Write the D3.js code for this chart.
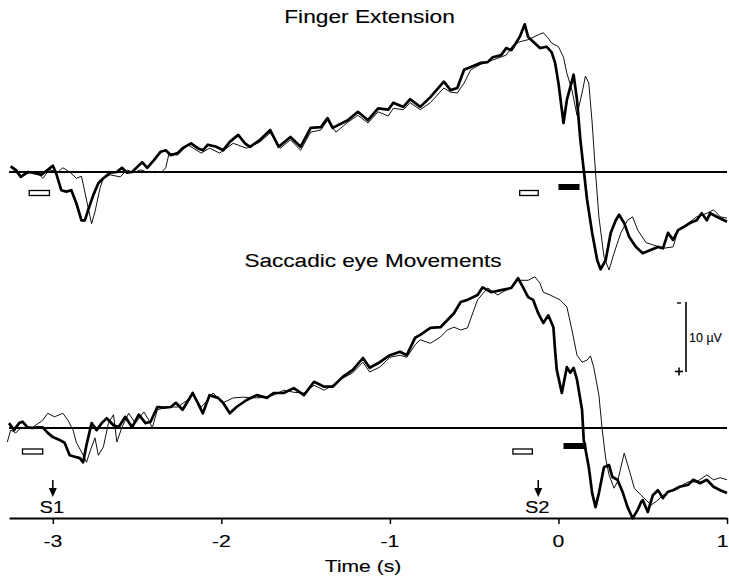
<!DOCTYPE html>
<html>
<head>
<meta charset="utf-8">
<script src="https://cdn.jsdelivr.net/npm/d3@7"></script>
<style>
  html, body { margin: 0; padding: 0; background: #fff; }
  svg { display: block; }
</style>
</head>
<body>
<svg id="chart" width="729" height="584"></svg>
<script>
// Grand-average potentials (time in s, amplitude in µV, negative plotted upward)
const fingerThick = [
[-3.25,-0.8],[-3.22,-0.3],[-3.19,0.7],[-3.15,0.0],[-3.12,0.1],[-3.07,0.4],[-3.03,-0.3],[-3.00,-0.9],[-2.98,0.2],[-2.95,2.6],[-2.92,2.8],[-2.89,2.6],[-2.86,4.5],[-2.83,6.9],[-2.81,6.9],[-2.79,5.4],[-2.76,3.3],[-2.73,1.6],[-2.70,0.9],[-2.66,0.1],[-2.62,0.0],[-2.59,-0.6],[-2.56,0.1],[-2.53,0.0],[-2.50,-0.7],[-2.47,-1.4],[-2.44,-0.6],[-2.40,-1.7],[-2.36,-2.9],[-2.33,-3.1],[-2.30,-2.4],[-2.26,-2.7],[-2.23,-3.4],[-2.18,-4.1],[-2.14,-3.4],[-2.11,-3.1],[-2.08,-3.9],[-2.03,-3.6],[-1.99,-3.1],[-1.95,-4.3],[-1.90,-5.3],[-1.86,-4.1],[-1.83,-3.6],[-1.77,-4.6],[-1.71,-6.0],[-1.66,-3.6],[-1.59,-5.0],[-1.53,-3.6],[-1.47,-6.3],[-1.41,-6.4],[-1.37,-7.7],[-1.34,-6.3],[-1.25,-7.4],[-1.19,-8.6],[-1.13,-7.4],[-1.07,-9.1],[-1.01,-8.9],[-0.98,-9.9],[-0.92,-9.3],[-0.88,-10.4],[-0.82,-9.3],[-0.76,-10.7],[-0.68,-12.9],[-0.64,-11.7],[-0.60,-12.0],[-0.56,-14.6],[-0.52,-15.0],[-0.46,-15.6],[-0.42,-15.7],[-0.39,-16.4],[-0.34,-16.7],[-0.31,-17.7],[-0.28,-17.4],[-0.26,-18.1],[-0.23,-19.3],[-0.20,-21.1],[-0.18,-19.3],[-0.15,-18.6],[-0.11,-17.7],[-0.07,-17.9],[-0.04,-17.1],[-0.02,-15.6],[0.00,-12.7],[0.02,-8.9],[0.03,-7.0],[0.05,-10.3],[0.09,-13.9],[0.11,-10.3],[0.13,-4.6],[0.15,-0.3],[0.17,4.0],[0.20,8.7],[0.23,12.6],[0.25,13.9],[0.28,12.6],[0.31,8.7],[0.34,6.9],[0.36,6.1],[0.39,7.3],[0.42,9.3],[0.46,10.7],[0.50,11.6],[0.55,11.1],[0.59,10.7],[0.62,10.9],[0.65,8.7],[0.68,9.7],[0.71,8.3],[0.74,7.9],[0.78,7.3],[0.82,6.9],[0.85,5.9],[0.88,6.9],[0.90,5.9],[0.94,6.4],[1.00,7.1]
];
const fingerThin = [
[-3.25,-0.7],[-3.19,0.7],[-3.13,0.0],[-3.09,0.1],[-3.06,0.9],[-3.02,-0.3],[-2.97,0.0],[-2.94,-0.6],[-2.90,0.0],[-2.86,0.9],[-2.83,0.6],[-2.80,4.0],[-2.77,7.4],[-2.75,5.7],[-2.72,2.3],[-2.70,0.9],[-2.66,0.4],[-2.60,0.7],[-2.56,-0.3],[-2.52,0.1],[-2.48,-0.3],[-2.44,0.0],[-2.39,0.1],[-2.35,-0.1],[-2.33,-0.6],[-2.31,-2.7],[-2.26,-2.4],[-2.20,-3.9],[-2.12,-2.7],[-2.07,-3.4],[-2.01,-2.7],[-1.93,-4.1],[-1.85,-3.4],[-1.77,-4.3],[-1.71,-5.6],[-1.65,-3.4],[-1.59,-4.6],[-1.53,-3.1],[-1.47,-5.7],[-1.41,-6.0],[-1.37,-7.4],[-1.32,-5.7],[-1.25,-7.1],[-1.19,-8.1],[-1.13,-7.0],[-1.07,-8.6],[-1.01,-8.0],[-0.98,-9.1],[-0.92,-8.9],[-0.88,-9.9],[-0.82,-8.9],[-0.76,-9.9],[-0.68,-12.0],[-0.64,-11.4],[-0.60,-11.3],[-0.56,-12.7],[-0.52,-14.6],[-0.46,-15.4],[-0.39,-16.0],[-0.31,-16.7],[-0.27,-18.1],[-0.23,-18.6],[-0.18,-18.9],[-0.12,-19.6],[-0.09,-19.9],[-0.06,-19.1],[-0.04,-18.4],[0.00,-17.9],[0.03,-16.4],[0.05,-14.1],[0.08,-11.7],[0.11,-8.1],[0.14,-11.3],[0.16,-13.7],[0.18,-12.7],[0.20,-7.0],[0.22,0.1],[0.24,6.4],[0.27,12.1],[0.30,14.0],[0.33,11.6],[0.37,8.7],[0.41,6.9],[0.44,6.4],[0.47,8.3],[0.52,10.1],[0.56,10.4],[0.62,10.9],[0.68,10.7],[0.71,8.3],[0.77,7.3],[0.82,6.4],[0.88,5.9],[0.92,5.4],[0.96,6.4],[1.00,6.6]
];
const saccadeThick = [
[-3.26,-0.7],[-3.23,0.3],[-3.20,-0.7],[-3.18,-0.9],[-3.15,-0.1],[-3.12,0.0],[-3.09,-0.1],[-3.06,-0.1],[-3.03,0.7],[-3.00,1.3],[-2.96,1.7],[-2.93,2.1],[-2.90,3.9],[-2.87,4.1],[-2.84,4.3],[-2.82,4.9],[-2.80,2.4],[-2.77,-0.7],[-2.74,0.3],[-2.71,-0.7],[-2.68,-1.4],[-2.64,-0.4],[-2.61,-0.1],[-2.57,-1.6],[-2.53,-0.1],[-2.49,-1.9],[-2.45,-0.7],[-2.42,-0.9],[-2.38,-3.0],[-2.34,-2.9],[-2.30,-3.0],[-2.27,-3.6],[-2.23,-2.6],[-2.17,-5.0],[-2.14,-3.6],[-2.11,-2.1],[-2.07,-4.7],[-2.02,-4.3],[-1.99,-3.6],[-1.95,-2.1],[-1.91,-3.0],[-1.85,-4.0],[-1.79,-4.7],[-1.73,-4.3],[-1.69,-5.0],[-1.63,-5.0],[-1.57,-5.7],[-1.51,-4.7],[-1.45,-6.6],[-1.39,-5.9],[-1.34,-5.9],[-1.28,-7.3],[-1.22,-8.3],[-1.16,-10.0],[-1.12,-8.6],[-1.06,-9.4],[-1.00,-10.4],[-0.94,-10.9],[-0.90,-10.4],[-0.85,-12.9],[-0.82,-13.3],[-0.76,-14.3],[-0.70,-14.4],[-0.66,-15.4],[-0.62,-16.4],[-0.58,-18.0],[-0.54,-18.3],[-0.48,-19.0],[-0.45,-20.1],[-0.40,-19.4],[-0.34,-19.7],[-0.28,-20.0],[-0.24,-21.4],[-0.21,-20.1],[-0.18,-18.7],[-0.15,-18.3],[-0.12,-16.4],[-0.09,-15.0],[-0.06,-16.1],[-0.03,-14.4],[-0.02,-11.1],[-0.01,-8.3],[0.02,-5.0],[0.05,-8.7],[0.07,-7.9],[0.09,-8.6],[0.11,-6.9],[0.14,-2.6],[0.15,1.7],[0.18,5.6],[0.20,9.3],[0.22,11.3],[0.24,9.3],[0.27,5.6],[0.30,5.3],[0.32,7.0],[0.35,7.4],[0.38,9.1],[0.41,11.3],[0.44,12.9],[0.47,11.7],[0.49,10.6],[0.50,10.3],[0.53,12.0],[0.56,9.6],[0.59,8.9],[0.62,10.0],[0.65,9.1],[0.68,8.9],[0.72,8.4],[0.77,8.1],[0.80,7.4],[0.84,7.9],[0.88,7.4],[0.92,8.4],[0.96,8.9],[1.00,9.3]
];
const saccadeThin = [
[-3.27,2.0],[-3.25,0.3],[-3.22,0.7],[-3.19,0.0],[-3.15,-0.1],[-3.12,-0.1],[-3.06,-1.1],[-3.03,-2.1],[-2.99,-1.6],[-2.94,-2.1],[-2.91,-1.1],[-2.88,0.3],[-2.86,2.1],[-2.83,3.4],[-2.80,4.9],[-2.78,3.4],[-2.75,1.4],[-2.73,3.9],[-2.70,2.7],[-2.67,-0.7],[-2.64,-1.9],[-2.62,2.0],[-2.59,-0.1],[-2.55,-2.1],[-2.51,-0.7],[-2.46,-2.3],[-2.43,-1.1],[-2.41,0.0],[-2.38,-2.6],[-2.32,-3.0],[-2.26,-3.0],[-2.20,-4.0],[-2.17,-4.7],[-2.12,-3.0],[-2.08,-4.0],[-2.05,-5.0],[-1.99,-3.6],[-1.93,-4.3],[-1.87,-4.4],[-1.79,-4.3],[-1.73,-4.4],[-1.69,-4.7],[-1.63,-5.4],[-1.57,-5.1],[-1.51,-5.0],[-1.45,-6.1],[-1.39,-5.4],[-1.34,-6.1],[-1.28,-7.1],[-1.22,-7.9],[-1.16,-9.4],[-1.12,-8.0],[-1.06,-8.7],[-1.00,-10.1],[-0.94,-10.4],[-0.90,-10.1],[-0.85,-11.9],[-0.82,-12.6],[-0.76,-12.1],[-0.70,-13.0],[-0.66,-14.0],[-0.62,-14.4],[-0.58,-14.0],[-0.54,-14.3],[-0.48,-18.3],[-0.42,-20.0],[-0.36,-19.0],[-0.34,-19.3],[-0.28,-20.1],[-0.24,-21.1],[-0.18,-21.1],[-0.14,-21.6],[-0.11,-20.7],[-0.09,-19.4],[-0.05,-19.0],[0.01,-18.3],[0.05,-17.3],[0.08,-14.0],[0.11,-10.4],[0.14,-9.4],[0.17,-9.7],[0.19,-10.3],[0.21,-8.6],[0.24,-4.7],[0.26,0.3],[0.28,4.3],[0.30,6.7],[0.33,8.6],[0.35,7.7],[0.39,3.6],[0.42,6.0],[0.45,8.6],[0.49,9.6],[0.55,11.0],[0.59,10.3],[0.62,9.6],[0.68,8.9],[0.77,7.7],[0.82,7.7],[0.88,6.7],[0.92,7.4],[0.96,7.1],[1.00,7.4]
];

// Analysis windows (s): open = pre-stimulus windows, filled = post window
const fingerOpen = [[-3.14, -3.02], [-0.23, -0.12]];
const fingerFilled = [[0.00, 0.125]];
const saccadeOpen = [[-3.18, -3.06], [-0.27, -0.155]];
const saccadeFilled = [[0.03, 0.165]];

// Stimulus markers and axis ticks
const stimTimes = [-3.0, -0.12];
const stimLabels = ["S1", "S2"];
const timeTicks = [-3, -2, -1, 0, 1];
const tickLabels = ["-3", "-2", "-1", "0", "1"];
const scaleBar = [-18, -8]; // µV span of the 10 µV calibration bar

const svg = d3.select("#chart");
const FONT = "'Liberation Sans', Arial, Helvetica, sans-serif";

const x = d3.scaleLinear().domain([-3.26, 1.0]).range([9, 727]);
const yTop = d3.scaleLinear().domain([0, 10]).range([172, 242]);
const yBot = d3.scaleLinear().domain([0, 10]).range([428, 498]);

function label(txt, cx, by, size, sx, anchor) {
  svg.append("text")
    .attr("transform", `translate(${cx},${by}) scale(${sx},1)`)
    .attr("text-anchor", anchor || "middle")
    .style("font-family", FONT)
    .style("font-size", size + "px")
    .attr("fill", "#000")
    .attr("stroke", "#000")
    .attr("stroke-width", 0.12)
    .text(txt);
}

const panels = [
  { title: "Finger Extension", tx: 369.5, ty: 22.7, tsx: 1.30, y: yTop,
    thick: fingerThick, thin: fingerThin, open: fingerOpen, filled: fingerFilled,
    openOff: 21, filledOff: 15 },
  { title: "Saccadic eye Movements", tx: 373, ty: 267, tsx: 1.29, y: yBot,
    thick: saccadeThick, thin: saccadeThin, open: saccadeOpen, filled: saccadeFilled,
    openOff: 23.5, filledOff: 18 }
];

panels.forEach(p => {
  label(p.title, p.tx, p.ty, 17.5, p.tsx);

  // zero line
  svg.append("line")
    .attr("x1", x(-3.26)).attr("x2", x(1.0))
    .attr("y1", p.y(0)).attr("y2", p.y(0))
    .attr("stroke", "#000").attr("stroke-width", 1.8);

  const line = d3.line().x(d => x(d[0])).y(d => p.y(d[1]));
  svg.append("path").datum(p.thin)
    .attr("d", line).attr("fill", "none")
    .attr("stroke", "#111").attr("stroke-width", 1.0).attr("stroke-linejoin", "round");
  svg.append("path").datum(p.thick)
    .attr("d", line).attr("fill", "none")
    .attr("stroke", "#000").attr("stroke-width", 2.7).attr("stroke-linejoin", "round");

  const base = p.y(0);
  svg.selectAll(null).data(p.open).enter().append("rect")
    .attr("x", d => x(d[0])).attr("width", d => x(d[1]) - x(d[0]))
    .attr("y", base + p.openOff - 2.5).attr("height", 5)
    .attr("fill", "#fff").attr("stroke", "#000").attr("stroke-width", 1.3);
  svg.selectAll(null).data(p.filled).enter().append("rect")
    .attr("x", d => x(d[0])).attr("width", d => x(d[1]) - x(d[0]))
    .attr("y", base + p.filledOff - 3).attr("height", 6)
    .attr("fill", "#000");
});

// Calibration bar (negative up)
const barX = 686;
svg.append("line")
  .attr("x1", barX).attr("x2", barX)
  .attr("y1", yBot(scaleBar[0])).attr("y2", yBot(scaleBar[1]))
  .attr("stroke", "#000").attr("stroke-width", 1.6);
// polarity marks: "-" at the top end, "+" at the bottom end
svg.append("line").attr("x1", barX - 9).attr("x2", barX - 5)
  .attr("y1", yBot(scaleBar[0]) + 1).attr("y2", yBot(scaleBar[0]) + 1)
  .attr("stroke", "#000").attr("stroke-width", 1.4);
svg.append("line").attr("x1", barX - 11).attr("x2", barX - 3)
  .attr("y1", yBot(scaleBar[1]) - 0.5).attr("y2", yBot(scaleBar[1]) - 0.5)
  .attr("stroke", "#000").attr("stroke-width", 1.6);
svg.append("line").attr("x1", barX - 7).attr("x2", barX - 7)
  .attr("y1", yBot(scaleBar[1]) - 4.5).attr("y2", yBot(scaleBar[1]) + 3.5)
  .attr("stroke", "#000").attr("stroke-width", 1.6);
label("10 µV", 689, 341.7, 12.5, 1.0, "start");

// Time axis
const axisY = 518;
const axis = svg.append("g")
  .attr("transform", `translate(0,${axisY})`)
  .call(d3.axisBottom(x).tickValues(timeTicks).tickSize(6).tickSizeOuter(0).tickFormat(""));
axis.select(".domain").attr("stroke", "#000").attr("stroke-width", 2);
axis.selectAll(".tick line").attr("stroke", "#000").attr("stroke-width", 1.5);

timeTicks.forEach((t, i) => {
  const last = i === timeTicks.length - 1;
  label(tickLabels[i], last ? 728.5 : x(t), 547, 17, 1.25, last ? "end" : "middle");
});
label("Time (s)", 363, 571.7, 17, 1.24);

// Stimulus arrows
stimTimes.forEach((t, i) => {
  const sx = x(t);
  svg.append("line").attr("x1", sx).attr("x2", sx).attr("y1", 480).attr("y2", 490)
    .attr("stroke", "#000").attr("stroke-width", 1.5);
  svg.append("path")
    .attr("d", `M${sx - 4},488 L${sx + 4},488 L${sx},497 Z`).attr("fill", "#000");
  label(stimLabels[i], sx - 1, 512.7, 17, 1.18);
});
</script>
</body>
</html>
